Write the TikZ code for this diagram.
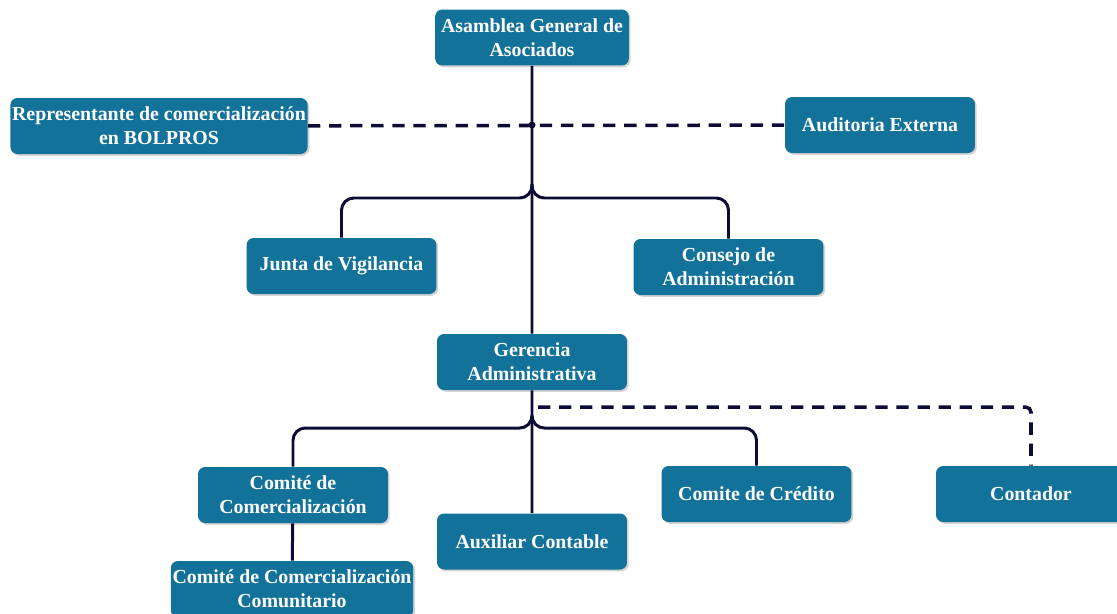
\documentclass[tikz,border=0pt]{standalone}
\usepackage{fontspec}
\setmainfont{Liberation Serif}
\usetikzlibrary{shadows}
\definecolor{boxblue}{RGB}{19,114,154}
\definecolor{linenavy}{RGB}{12,12,52}
\begin{document}
\begin{tikzpicture}
  [x=0.02cm,y=-0.02cm,
   every rectangle node/.style={fill=boxblue,text=white,rounded corners=4pt,
     font=\bfseries\fontsize{11.3}{13.6}\selectfont,align=center,
     minimum width=3.8cm,minimum height=1.12cm,
     drop shadow={opacity=0.35,shadow xshift=1pt,shadow yshift=-1pt}},
   link/.style={draw=linenavy,line width=1.7pt},
   dlink/.style={link,line width=2pt,dash pattern=on 7pt off 5pt}]
  \useasboundingbox (0,0) rectangle (1117,613);
  \node[rectangle] (A) at (532,37.5) {Asamblea General de\\Asociados};
  \node[rectangle,inner xsep=1pt,minimum width=6.04cm,minimum height=1.04cm] (B) at (159,126) {Representante de comercialización\\en BOLPROS};
  \node[rectangle,minimum width=3.76cm] (C) at (880,125) {Auditoria Externa};
  \node[rectangle] (D) at (341.5,266) {Junta de Vigilancia};
  \node[rectangle] (E) at (728.5,267) {Consejo de\\Administración};
  \node[rectangle] (F) at (532,362) {Gerencia\\Administrativa};
  \node[rectangle] (G) at (293,495) {Comité de\\Comercialización};
  \node[rectangle] (H) at (532,541.5) {Auxiliar Contable};
  \node[rectangle] (I) at (756.5,494) {Comite de Crédito};
  \node[rectangle] (J) at (1031,494) {Contador};
  \node[rectangle,inner xsep=1pt,minimum width=4.88cm] (K) at (292,589) {Comité de Comercialización\\Comunitario};
  \coordinate (X) at (532,125);
  \coordinate (b1) at (532,184);
  \coordinate (j1) at (532,198);
  \coordinate (b2) at (532,416);
  \coordinate (j2) at (532,428);
  \coordinate (c1) at (538,407);
  \draw[link]
  (A) -- (F)
  (F) -- (H)
  (G) -- (K);
  \draw[dlink] (B) -- (C);
  \fill[linenavy] (X) circle (2pt);
  \draw[link,rounded corners=7pt] (b1) -- (j1) -| (D);
  \draw[link,rounded corners=7pt] (b1) -- (j1) -| (E);
  \draw[link,rounded corners=7pt] (b2) -- (j2) -| (G);
  \draw[link,rounded corners=7pt] (b2) -- (j2) -| (I);
  \draw[dlink,rounded corners=3pt] (c1) -| (J);
\end{tikzpicture}
\end{document}
